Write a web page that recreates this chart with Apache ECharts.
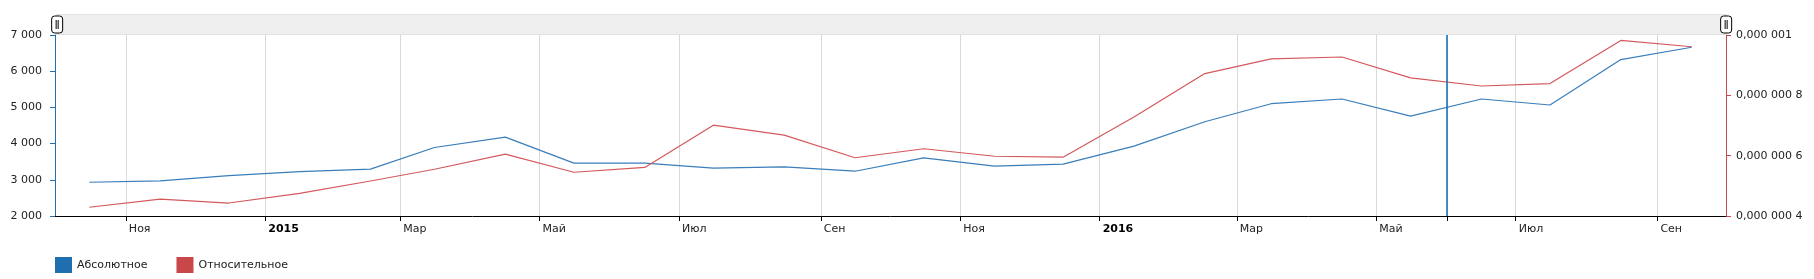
<!DOCTYPE html>
<html>
<head>
<meta charset="utf-8">
<script src="https://cdn.jsdelivr.net/npm/echarts@6/dist/echarts.min.js"></script>
<style>
html,body{margin:0;padding:0;background:#fff;}
#chart{width:1814px;height:279px;}
</style>
</head>
<body>
<div id="chart"></div>
<script>
// ---- data ----
var dates = ['2014-10-16','2014-11-16','2014-12-16','2015-01-16','2015-02-16','2015-03-16',
             '2015-04-16','2015-05-16','2015-06-16','2015-07-16','2015-08-16','2015-09-16',
             '2015-10-16','2015-11-16','2015-12-16','2016-01-16','2016-02-16','2016-03-16',
             '2016-04-16','2016-05-16','2016-06-16','2016-07-16','2016-08-16','2016-09-16'];
var absoluteValues = [2933, 2970, 3116, 3227, 3294, 3892,
                      4180, 3460, 3460, 3320, 3357, 3237,
                      3607, 3376, 3432, 3930, 4604, 5102,
                      5232, 4761, 5232, 5066, 6321, 6662];
var relativeValues = [0.000000429, 0.000000456, 0.000000443, 0.000000475, 0.000000516, 0.000000555,
                      0.000000605, 0.000000545, 0.000000561, 0.000000701, 0.000000668, 0.000000593,
                      0.000000623, 0.000000598, 0.000000595, 0.000000728, 0.000000872, 0.000000921,
                      0.000000927, 0.000000858, 0.000000831, 0.000000839, 0.000000982, 0.000000961];
var seriesNames = ['Абсолютное', 'Относительное'];
var tickDates = ['2014-11-01','2015-01-01','2015-03-01','2015-05-01','2015-07-01','2015-09-01',
                 '2015-11-01','2016-01-01','2016-03-01','2016-05-01','2016-07-01','2016-09-01'];
var tickLabels = ['Ноя','2015','Мар','Май','Июл','Сен','Ноя','2016','Мар','Май','Июл','Сен'];
var markerDate = '2016-06-01';
var xRange = ['2014-10-01', '2016-10-01'];

// ---- chart ----
function ts(s) { var p = s.split('-'); return new Date(+p[0], +p[1] - 1, +p[2]).getTime(); }
var labelMap = {};
tickDates.forEach(function (d, i) { labelMap[ts(d)] = tickLabels[i]; });
var tickValues = tickDates.map(ts).concat([ts(markerDate)]);

function fmtThousands(v) {
  return String(Math.round(v)).replace(/\B(?=(\d{3})+(?!\d))/g, ' ');
}
function fmtSmall(v) {
  var s = v.toFixed(7).replace(/0+$/, '');
  var parts = s.split('.');
  var frac = parts[1] || '';
  var groups = frac.match(/.{1,3}/g) || [];
  return parts[0] + (groups.length ? ',' + groups.join(' ') : '');
}

var FONT = 'DejaVu Sans';
var BLUE = '#1f6fb0';
var RED = '#c9474a';
var TXT = '#222';

var chart = echarts.init(document.getElementById('chart'), null, {renderer: 'canvas'});
chart.setOption({
  animation: false,
  textStyle: {fontFamily: FONT},
  grid: {left: 55, right: 88, top: 35, bottom: 63, containLabel: false},
  legend: {
    left: 55, top: 257, padding: 0,
    itemWidth: 17, itemHeight: 16, itemGap: 29,
    icon: 'rect',
    textStyle: {fontFamily: FONT, fontSize: 11, color: TXT},
    data: seriesNames
  },
  dataZoom: [{
    type: 'slider',
    xAxisIndex: 0,
    filterMode: 'none',
    start: 0, end: 100,
    left: 55, right: 88, top: 14, height: 21,
    backgroundColor: '#efefef',
    borderColor: '#e2e2e2',
    fillerColor: 'rgba(0,0,0,0)',
    showDetail: false,
    showDataShadow: false,
    brushSelect: false,
    moveHandleSize: 0,
    realtime: false,
    dataBackground: {lineStyle: {opacity: 0}, areaStyle: {opacity: 0}},
    selectedDataBackground: {lineStyle: {opacity: 0}, areaStyle: {opacity: 0}},
    handleIcon: 'path://M3,0 H8 Q11,0 11,3 V14 Q11,17 8,17 H3 Q0,17 0,14 V3 Q0,0 3,0 Z M4.5,4 V13 M6.5,4 V13',
    handleSize: 17,
    handleStyle: {color: '#fff', borderColor: '#000', borderWidth: 1},
    emphasis: {handleStyle: {color: '#fff', borderColor: '#000', borderWidth: 1}}
  }],
  xAxis: {
    type: 'value',
    min: ts(xRange[0]), max: ts(xRange[1]),
    axisLine: {show: true, onZero: false, lineStyle: {color: '#000', width: 1}},
    axisTick: {show: true, length: 5, lineStyle: {color: '#000'}, customValues: tickValues},
    splitLine: {show: true, lineStyle: {color: '#d9d9d9', width: 1}},
    axisLabel: {
      customValues: tickDates.map(ts),
      margin: 8,
      align: 'left',
      padding: [0, 0, 0, 3],
      fontFamily: FONT, fontSize: 11, color: TXT,
      formatter: function (v) {
        var l = labelMap[v];
        if (l === undefined) return '';
        return /^\d{4}$/.test(l) ? '{b|' + l + '}' : l;
      },
      rich: {b: {fontWeight: 'bold', fontFamily: FONT, fontSize: 11, color: '#000'}}
    }
  },
  yAxis: [{
    type: 'value', position: 'left',
    min: 2000, max: 7000, interval: 1000,
    axisLine: {show: true, lineStyle: {color: BLUE, width: 1}},
    axisTick: {show: true, length: 5, lineStyle: {color: BLUE}},
    splitLine: {show: false},
    axisLabel: {margin: 13, fontFamily: FONT, fontSize: 11, color: TXT, formatter: fmtThousands}
  }, {
    type: 'value', position: 'right',
    min: 0.0000004, max: 0.000001, interval: 0.0000002,
    axisLine: {show: true, lineStyle: {color: RED, width: 1}},
    axisTick: {show: true, length: 5, lineStyle: {color: RED}},
    splitLine: {show: false},
    axisLabel: {margin: 10, fontFamily: FONT, fontSize: 11, color: TXT, formatter: fmtSmall}
  }],
  series: [{
    name: seriesNames[0], type: 'line', yAxisIndex: 0,
    showSymbol: false, symbol: 'none',
    itemStyle: {color: BLUE},
    lineStyle: {color: '#3a7dbb', width: 1.2},
    data: dates.map(function (d, i) { return [ts(d), absoluteValues[i]]; }),
    markLine: {
      silent: true, symbol: 'none',
      label: {show: false},
      lineStyle: {color: '#0b6cb6', width: 1.5, type: 'solid'},
      data: [{xAxis: ts(markerDate)}]
    }
  }, {
    name: seriesNames[1], type: 'line', yAxisIndex: 1,
    showSymbol: false, symbol: 'none',
    itemStyle: {color: RED},
    lineStyle: {color: '#d4585c', width: 1.2},
    data: dates.map(function (d, i) { return [ts(d), relativeValues[i]]; })
  }]
});
</script>
</body>
</html>
